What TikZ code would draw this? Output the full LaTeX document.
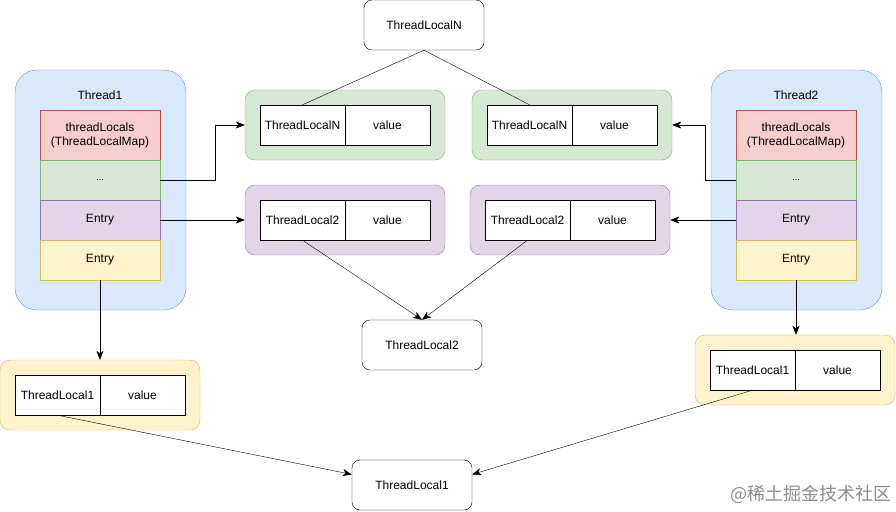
\documentclass[tikz,border=0pt]{standalone}
\usepackage{fontspec}
\setmainfont{Liberation Sans}
\newfontfamily\cjk{Noto Sans CJK SC}
\usetikzlibrary{arrows.meta}

\definecolor{blueFill}{HTML}{DAE8FC}
\definecolor{blueLine}{HTML}{6C8EBF}
\definecolor{redFill}{HTML}{F8CECC}
\definecolor{redLine}{HTML}{B85450}
\definecolor{greenFill}{HTML}{D5E8D4}
\definecolor{greenLine}{HTML}{82B366}
\definecolor{purpleFill}{HTML}{E1D5E7}
\definecolor{purpleLine}{HTML}{9673A6}
\definecolor{yellowFill}{HTML}{FFF2CC}
\definecolor{yellowLine}{HTML}{D6B656}

\begin{document}
\begin{tikzpicture}[x=1pt, y=-1pt,
		font=\fontsize{12}{14}\selectfont,
		box/.style={draw, fill=white, rounded corners=8pt, minimum width=120pt, minimum height=50pt},
		thread/.style={draw=blueLine, fill=blueFill, rounded corners=22pt, minimum width=171pt, minimum height=240pt},
		cell/.style={draw, minimum width=120pt, minimum height=40pt, align=center},
		group/.style={rounded corners=10pt, minimum width=200pt, minimum height=70pt},
		kv/.style={draw, fill=white, minimum width=85pt, minimum height=40pt, inner sep=1pt},
		arr/.style={-{Stealth[length=9pt, width=7pt, inset=2.5pt]}}]
	\useasboundingbox (0,0) rectangle (896,511);

	% Thread1
	\node[thread] (T1) at (100.5,190) {};
	\node (T1label) at (100,95) {Thread1};
	\node[cell, minimum height=50pt, fill=redFill, draw=redLine] (T1map) at (100,135) {threadLocals\\(ThreadLocalMap)};
	\node[cell, fill=greenFill, draw=greenLine] (T1dots) at (100,180) {\fontsize{9}{10}\selectfont ...};
	\node[cell, fill=purpleFill, draw=purpleLine] (T1e2) at (100,220) {Entry};
	\node[cell, fill=yellowFill, draw=yellowLine] (T1e1) at (100,260) {Entry};

	% Thread2
	\node[thread] (T2) at (796.5,190) {};
	\node (T2label) at (796,95) {Thread2};
	\node[cell, minimum height=50pt, fill=redFill, draw=redLine] (T2map) at (796,135) {threadLocals\\(ThreadLocalMap)};
	\node[cell, fill=greenFill, draw=greenLine] (T2dots) at (796,180) {\fontsize{9}{10}\selectfont ...};
	\node[cell, fill=purpleFill, draw=purpleLine] (T2e2) at (796,220) {Entry};
	\node[cell, fill=yellowFill, draw=yellowLine] (T2e1) at (796,260) {Entry};

	% entries
	\node[group, fill=greenFill, draw=greenLine] (GN1) at (345,125) {};
	\node[kv] (GN1k) at (302.5,125) {ThreadLocalN};
	\node[kv] (GN1v) at (387.5,125) {value};
	\node[group, fill=greenFill, draw=greenLine] (GN2) at (572,125) {};
	\node[kv] (GN2k) at (529.5,125) {ThreadLocalN};
	\node[kv] (GN2v) at (614.5,125) {value};

	\node[group, fill=purpleFill, draw=purpleLine] (GP1) at (345,220) {};
	\node[kv] (GP1k) at (302.5,220) {ThreadLocal2};
	\node[kv] (GP1v) at (387.5,220) {value};
	\node[group, fill=purpleFill, draw=purpleLine] (GP2) at (570,220) {};
	\node[kv] (GP2k) at (527.5,220) {ThreadLocal2};
	\node[kv] (GP2v) at (612.5,220) {value};

	\node[group, fill=yellowFill, draw=yellowLine] (GY1) at (100,395) {};
	\node[kv] (GY1k) at (57.5,395) {ThreadLocal1};
	\node[kv] (GY1v) at (142.5,395) {value};
	\node[group, fill=yellowFill, draw=yellowLine] (GY2) at (795,370) {};
	\node[kv] (GY2k) at (752.5,370) {ThreadLocal1};
	\node[kv] (GY2v) at (837.5,370) {value};

	% keys
	\node[box] (TLN) at (424,25) {ThreadLocalN};
	\node[box] (TL2) at (422,345) {ThreadLocal2};
	\node[box] (TL1) at (412,485) {ThreadLocal1};

	% Thread1 -> entries
	\draw[arr] (T1dots.east) -- ++(55,0) |- (GN1.west);
	\draw[arr] (T1e2.east) -- (GP1.west);
	\draw[arr] (T1e1.south) -- (GY1.north);
	% Thread2 -> entries
	\draw[arr] (T2dots.west) -- ++(-31,0) |- (GN2.east);
	\draw[arr] (T2e2.west) -- (GP2.east);
	\draw[arr] (T2e1.south) -- (T2e1.south |- GY2.north);

	% keys -> ThreadLocal
	\draw (TLN.south) -- (GN1k.north);
	\draw (TLN.south) -- (GN2k.north);
	\draw[arr] (GP1k.south) -- (TL2.north);
	\draw[arr] (GP2k.south) -- (TL2.north);
	\draw[arr] (GY1k.south) -- (TL1.170);
	\draw[arr] (GY2k.south) -- (TL1.10);

	\node[text=black!45, font=\cjk\fontsize{18}{20}\selectfont] (WM) at (811,494) {@稀土掘金技术社区};
\end{tikzpicture}
\end{document}
